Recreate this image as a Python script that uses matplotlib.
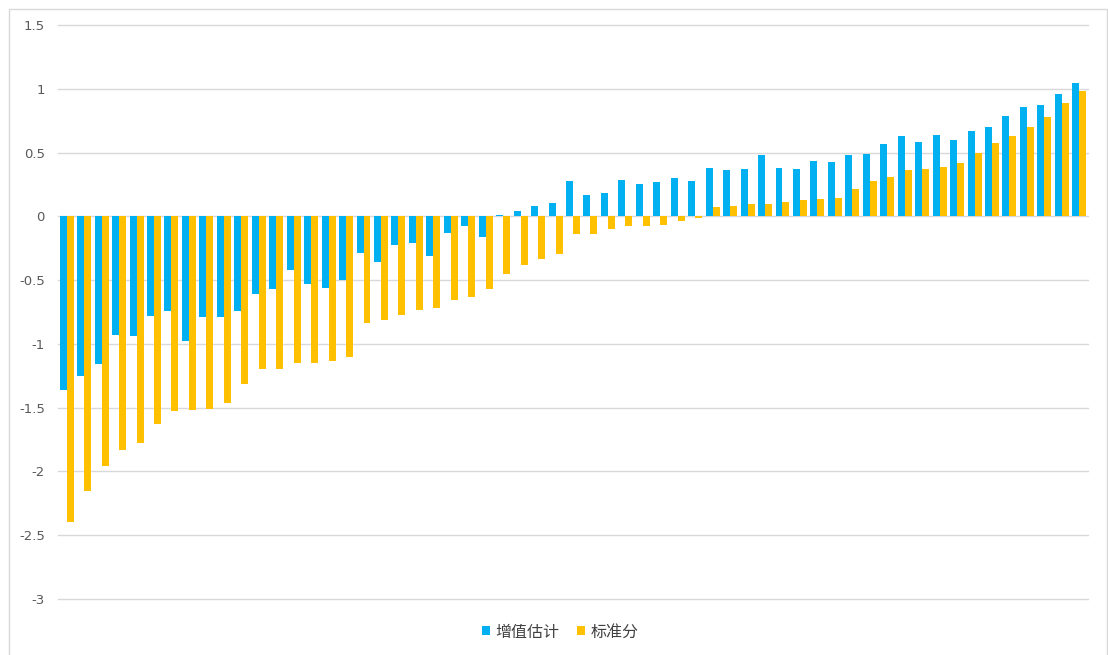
import numpy as np
import matplotlib
matplotlib.use("Agg")
import matplotlib.pyplot as plt
from matplotlib.patches import Rectangle

plt.rcParams['font.family'] = ['Noto Sans CJK SC', 'DejaVu Sans']

series_names = ["增值估计", "标准分"]

value_added = [
    -1.36, -1.255, -1.16, -0.93, -0.94, -0.78, -0.74, -0.975, -0.79, -0.79,
    -0.74, -0.61, -0.57, -0.42, -0.527, -0.56, -0.496, -0.29, -0.355, -0.227,
    -0.206, -0.313, -0.13, -0.078, -0.164, 0.01, 0.039, 0.084, 0.104, 0.274,
    0.167, 0.18, 0.287, 0.256, 0.266, 0.298, 0.274, 0.381, 0.36, 0.37,
    0.478, 0.381, 0.37, 0.436, 0.425, 0.478, 0.491, 0.564, 0.626, 0.585,
    0.64, 0.595, 0.671, 0.702, 0.789, 0.861, 0.875, 0.958, 1.044,
]

standard_score = [
    -2.394, -2.15, -1.958, -1.83, -1.778, -1.63, -1.53, -1.52, -1.51, -1.467,
    -1.318, -1.2, -1.2, -1.146, -1.146, -1.135, -1.104, -0.838, -0.814, -0.773,
    -0.731, -0.72, -0.655, -0.634, -0.569, -0.452, -0.378, -0.334, -0.292, -0.141,
    -0.141, -0.099, -0.078, -0.078, -0.068, -0.034, -0.013, 0.07, 0.08, 0.094,
    0.094, 0.115, 0.125, 0.136, 0.146, 0.211, 0.274, 0.308, 0.36, 0.37,
    0.39, 0.415, 0.499, 0.574, 0.626, 0.702, 0.778, 0.885, 0.979,
]

y_ticks = [1.5, 1, 0.5, 0, -0.5, -1, -1.5, -2, -2.5, -3]
y_tick_labels = ["1.5", "1", "0.5", "0", "-0.5", "-1", "-1.5", "-2", "-2.5", "-3"]

W, H = 1108, 655
fig = plt.figure(figsize=(W / 100, H / 100), dpi=100)

# outer chart frame
fig.patches.append(Rectangle((9 / W, -0.05), (1107 - 9) / W, 1.05 - 9 / H,
                             transform=fig.transFigure, fill=False,
                             edgecolor="#d9d9d9", linewidth=1.0))

ax = fig.add_axes([58 / W, 56 / H, (1088 - 58) / W, (630 - 56) / H])

x = np.arange(len(value_added))
bw = 0.4
ax.bar(x - bw / 2, value_added, width=bw, color="#00B0F0", label=series_names[0], zorder=3)
ax.bar(x + bw / 2, standard_score, width=bw, color="#FFC000", label=series_names[1], zorder=3)

ax.set_xlim(-0.5, len(value_added) - 0.5)
ax.set_ylim(-3, 1.5)
ax.set_yticks(y_ticks)
ax.set_yticklabels(y_tick_labels, fontsize=9.5, color="#595959", family=['DejaVu Sans'])
ax.tick_params(axis="y", length=0, pad=9.5)
ax.set_xticks([])
for s in ax.spines.values():
    s.set_visible(False)

# horizontal gridlines, including the ones on the axis limits
for yv in y_ticks:
    ax.axhline(yv, color="#d9d9d9", linewidth=1.0, zorder=1, clip_on=False)

fig.legend(loc="center", bbox_to_anchor=(560 / W, 1 - 632 / H), ncol=2, frameon=False,
           fontsize=11.5, handlelength=0.5, handleheight=0.5, handletextpad=0.35,
           columnspacing=1.1, labelcolor="#404040")

fig.savefig("out.png", dpi=100, facecolor="white")
